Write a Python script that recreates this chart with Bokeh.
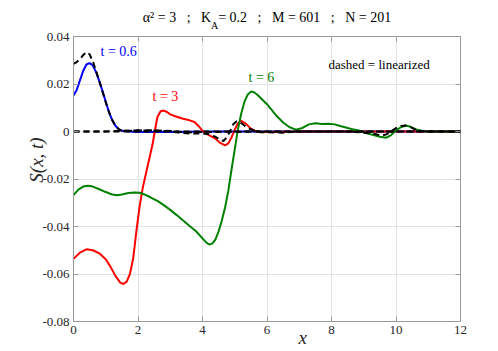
import math
from bokeh.plotting import figure
from bokeh.models import Range1d, FixedTicker, LinearAxis, Label
from bokeh.embed import file_html
from bokeh.resources import INLINE

# ---------------- data ----------------
x_ticks = [0, 2, 4, 6, 8, 10, 12]
x_tick_labels = ["0", "2", "4", "6", "8", "10", "12"]
y_ticks = [-0.08, -0.06, -0.04, -0.02, 0.0, 0.02, 0.04]
y_tick_labels = ["-0.08", "-0.06", "-0.04", "-0.02", "0", "0.02", "0.04"]

# t = 0.6 (nonlinear, blue)
x_t06 = [0, 0.1, 0.2, 0.3, 0.4, 0.5, 0.6, 0.7, 0.8, 0.9, 1.0, 1.1, 1.2, 1.3, 1.4, 1.5, 1.7, 2.0, 3.0, 4.0, 6.0, 12.0]
s_t06 = [0.0152, 0.0175, 0.0215, 0.0255, 0.0282, 0.0288, 0.0278, 0.0250, 0.0212, 0.0170, 0.0125, 0.0082,
         0.0048, 0.0024, 0.0010, 0.0003, 0.0000, -0.0002, -0.0002, 0.0, 0.0, 0.0]

# t = 0.6 (linearized, dashed)
x_t06_lin = [0, 0.1, 0.2, 0.3, 0.4, 0.5, 0.6, 0.7, 0.8, 0.9, 1.0, 1.1, 1.2, 1.3, 1.4, 1.5, 1.7, 2.0, 2.5, 3.0,
             3.5, 4.0, 6.0, 12.0]
s_t06_lin = [0.0285, 0.0292, 0.0305, 0.0322, 0.0334, 0.0325, 0.0295, 0.0255, 0.0212, 0.0168, 0.0123, 0.0082,
             0.0048, 0.0024, 0.0010, 0.0003, 0.0002, 0.0004, 0.0005, 0.0002, -0.0004, -0.0002, 0.0, 0.0]

# t = 3 (nonlinear, red)
x_t3 = [0, 0.2, 0.4, 0.6, 0.8, 1.0, 1.15, 1.3, 1.45, 1.55, 1.65, 1.75, 1.85, 1.95, 2.05, 2.15, 2.25, 2.35,
        2.45, 2.52, 2.6, 2.7, 2.8, 2.9, 3.0, 3.2, 3.4, 3.6, 3.75, 3.9, 4.0, 4.2, 4.4, 4.55, 4.7, 4.8, 4.9,
        5.0, 5.1, 5.2, 5.35, 5.5, 5.65, 5.8, 6.2, 7.0, 12.0]
s_t3 = [-0.0536, -0.0510, -0.0496, -0.0500, -0.0513, -0.0538, -0.0570, -0.0608, -0.0636, -0.0642, -0.0632,
        -0.0600, -0.0535, -0.0420, -0.0315, -0.0235, -0.0175, -0.0115, -0.0055, 0.0, 0.0060, 0.0085, 0.0088,
        0.0082, 0.0072, 0.0062, 0.0054, 0.0047, 0.0040, 0.0020, 0.0003, -0.0015, -0.0030, -0.0048, -0.0058,
        -0.0050, -0.0025, 0.0008, 0.0035, 0.0045, 0.0032, 0.0012, 0.0002, -0.0002, -0.0002, 0.0, 0.0]

# t = 3 (linearized, dashed)
x_t3_lin = [0, 1.0, 1.5, 2.0, 2.5, 3.0, 3.3, 3.6, 4.0, 4.2, 4.4, 4.55, 4.65, 4.75, 4.85, 4.95, 5.05, 5.15,
            5.3, 5.45, 5.6, 5.8, 6.5, 7.0, 12.0]
s_t3_lin = [0, 0, 0.0003, 0.0005, 0.0004, 0.0001, -0.0006, -0.0008, -0.0008, -0.0012, -0.0022, -0.0035,
            -0.0040, -0.0025, 0.0000, 0.0030, 0.0042, 0.0040, 0.0025, 0.0012, 0.0004, -0.0003, -0.0005, 0, 0]

# t = 6 (nonlinear, green)
x_t6 = [0, 0.15, 0.3, 0.45, 0.6, 0.8, 1.0, 1.2, 1.35, 1.5, 1.7, 1.9, 2.05, 2.2, 2.4, 2.6, 2.8, 3.0, 3.2, 3.4,
        3.6, 3.8, 4.0, 4.1, 4.2, 4.3, 4.4, 4.5, 4.6, 4.7, 4.8, 4.9, 5.0, 5.1, 5.2, 5.3, 5.4, 5.5, 5.6, 5.7,
        5.85, 6.0, 6.15, 6.3, 6.5, 6.7, 6.9, 7.1, 7.3, 7.5, 7.7, 7.9, 8.1, 8.3, 8.5, 8.7, 8.9, 9.1, 9.3, 9.5,
        9.7, 9.85, 10.0, 10.15, 10.3, 10.45, 10.6, 10.8, 11.0, 12.0]
s_t6 = [-0.0268, -0.0245, -0.0232, -0.0228, -0.0232, -0.0243, -0.0255, -0.0265, -0.0268, -0.0265, -0.0259,
        -0.0257, -0.0258, -0.0265, -0.0278, -0.0292, -0.0310, -0.0330, -0.0352, -0.0375, -0.0398, -0.0420,
        -0.0450, -0.0465, -0.0476, -0.0472, -0.0455, -0.0420, -0.0375, -0.0320, -0.0250, -0.0160, -0.0075,
        0.0010, 0.0075, 0.0125, 0.0155, 0.0168, 0.0165, 0.0155, 0.0135, 0.0115, 0.0090, 0.0065, 0.0038,
        0.0018, 0.0008, 0.0015, 0.0030, 0.0035, 0.0032, 0.0033, 0.0030, 0.0022, 0.0015, 0.0008, 0.0002,
        -0.0008, -0.0015, -0.0022, -0.0026, -0.0015, 0.0005, 0.0018, 0.0025, 0.0020, 0.0010, 0.0002, 0.0, 0.0]

# t = 6 (linearized, dashed)
x_t6_lin = [0, 8.5, 8.9, 9.2, 9.4, 9.55, 9.7, 9.85, 10.0, 10.15, 10.3, 10.45, 10.6, 10.8, 11.0, 12.0]
s_t6_lin = [0, 0, -0.0004, -0.0008, -0.0012, -0.0018, -0.0012, 0.0000, 0.0014, 0.0023, 0.0025, 0.0018,
            0.0008, 0.0002, 0, 0]

# ---------------- figure ----------------
SERIF = "Liberation Serif"
AXC = "#9a9a9a"
TXT = "#262626"
NB = "\u00a0"

FL, FT, FR, FB = 73, 36, 460, 321   # frame edges in page pixels

p = figure(width=498, height=351, output_backend="svg", toolbar_location=None, title=None,
           x_range=Range1d(0, 12), y_range=Range1d(-0.08, 0.04),
           min_border_left=FL, min_border_right=498 - FR, min_border_top=FT, min_border_bottom=351 - FB)
p.background_fill_color = "white"
p.border_fill_color = "white"
p.outline_line_color = AXC
p.outline_line_width = 1

for ax in (p.xaxis[0], p.yaxis[0]):
    ax.axis_line_color = AXC
    ax.major_tick_line_color = AXC
    ax.major_tick_in = 5
    ax.major_tick_out = 0
    ax.minor_tick_line_color = None
    ax.major_label_text_font = SERIF
    ax.major_label_text_font_size = "13px"
    ax.major_label_text_color = TXT
    ax.major_label_standoff = 4
    ax.axis_label_text_font = SERIF
    ax.axis_label_text_font_style = "italic"
    ax.axis_label_text_font_size = "19px"
    ax.axis_label_text_color = TXT

p.xaxis[0].ticker = FixedTicker(ticks=x_ticks)
p.xaxis[0].major_label_overrides = {t: l for t, l in zip(x_ticks, x_tick_labels)}
p.yaxis[0].ticker = FixedTicker(ticks=y_ticks)
p.yaxis[0].major_label_overrides = {t: l for t, l in zip(y_ticks, y_tick_labels)}

p.yaxis[0].axis_label = NB * 8 + "S(x, t)"
p.yaxis[0].axis_label_standoff = -8
p.xaxis[0].axis_label = NB * 15 + "x"
p.xaxis[0].axis_label_standoff = -10

# top axis: box ticks (minor ticks at the x ticks) + title as axis label,
# with the subscript "A" of K_A as the only major label
x_sub = 4.372
title_text = ("α²" + NB + "=" + NB + "3" + NB * 3 + ";" + NB * 3 + "K" + NB * 2 + "=" + NB + "0.2"
              + NB * 3 + ";" + NB * 3 + "M" + NB + "=" + NB + "601" + NB * 3 + ";" + NB * 3
              + "N" + NB + "=" + NB + "201")
top_ax = LinearAxis(ticker=FixedTicker(ticks=[x_sub], minor_ticks=x_ticks),
                    major_label_overrides={x_sub: "A"},
                    major_label_text_font=SERIF, major_label_text_font_size="10px",
                    major_label_text_color="black", major_label_standoff=0,
                    axis_line_color=None, major_tick_line_color=None,
                    minor_tick_line_color=AXC, minor_tick_in=5, minor_tick_out=0,
                    axis_label=title_text, axis_label_text_font=SERIF,
                    axis_label_text_font_size="14px", axis_label_text_font_style="normal",
                    axis_label_text_color="black", axis_label_standoff=-8)
right_ax = LinearAxis(ticker=FixedTicker(ticks=[], minor_ticks=y_ticks),
                      axis_line_color=None, major_tick_line_color=None,
                      minor_tick_line_color=AXC, minor_tick_in=5, minor_tick_out=0,
                      major_label_standoff=0)
p.add_layout(top_ax, "above")
p.add_layout(right_ax, "right")

p.xgrid.ticker = FixedTicker(ticks=x_ticks)
p.ygrid.ticker = FixedTicker(ticks=y_ticks)
p.xgrid.grid_line_color = "#e3e3e3"
p.ygrid.grid_line_color = "#e3e3e3"

# solid (nonlinear) curves
p.line(x_t06, s_t06, line_color="#0000ff", line_width=2)
p.line(x_t3, s_t3, line_color="#ff0000", line_width=2)
p.line(x_t6, s_t6, line_color="#008000", line_width=2)
# dashed (linearized) curves
for xs, ys in ((x_t6_lin, s_t6_lin), (x_t3_lin, s_t3_lin), (x_t06_lin, s_t06_lin)):
    p.line(xs, ys, line_color="black", line_width=2, line_dash="6 4")

# ---------------- in-plot texts ----------------
def lab(text, px, py, size, color):
    # screen units relative to the frame (origin bottom-left of the frame)
    p.add_layout(Label(x=px - FL, y=FB - py, x_units="screen", y_units="screen",
                       text=text, text_font=SERIF, text_font_size=size,
                       text_color=color, text_align="left", text_baseline="alphabetic"))

lab("t = 0.6", 100, 51, "14px", "#0000ff")
lab("t = 3", 152, 96, "14px", "#ff0000")
lab("t = 6", 248, 77, "14px", "#008000")
lab("dashed = linearized", 328, 64, "13px", "black")

open("out.html", "w").write(file_html(p, INLINE))
